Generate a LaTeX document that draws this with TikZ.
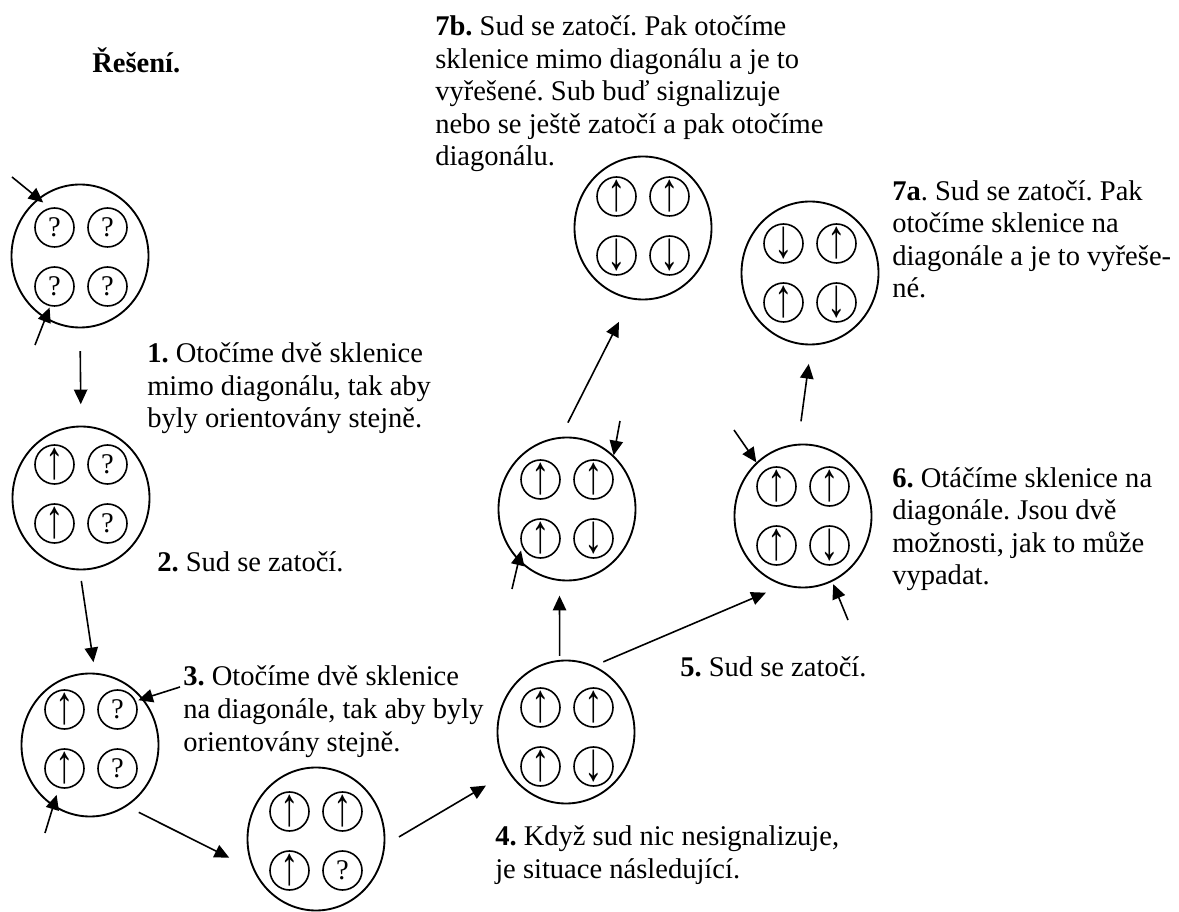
\documentclass[tikz,border=0pt]{standalone}
\usepackage{fontspec}
\setmainfont{Liberation Serif}
\usetikzlibrary{arrows.meta,shapes.geometric}
\frenchspacing
\newcommand{\glassup}{\scalebox{1.3}[1.9]{↑}}
\newcommand{\glassdown}{\scalebox{1.3}[1.9]{↓}}

\begin{document}
\begin{tikzpicture}[x=0.75pt,y=0.75pt,yscale=-1,xscale=1,
  barrel/.style={draw,ellipse,line width=1.4pt,minimum width=102.75pt,minimum height=107.25pt,inner sep=0pt},
  glass/.style={draw,circle,line width=1.2pt,minimum size=29.25pt,inner sep=0pt,font=\fontsize{21.4}{24.4}\selectfont},
  note/.style={anchor=base west,align=left,inner sep=0pt,font=\fontsize{21.4}{24.4}\selectfont},
  move/.style={-{Triangle[length=11pt,width=10pt]},line width=1.2pt}]
\useasboundingbox (0,0) rectangle (1179,912);

%Shape: Circle [barrel 1]
\node[barrel] (s1) at (80,256) {};
\node[glass] (s1a) at (54.5,227.5) {?};
\node[glass] (s1b) at (107.5,227.5) {?};
\node[glass] (s1c) at (54.5,286.5) {?};
\node[glass] (s1d) at (107.5,286.5) {?};
%Shape: Circle [barrel 2]
\node[barrel] (s2) at (81,498) {};
\node[glass] (s2a) at (54.5,464.5) {\glassup};
\node[glass] (s2b) at (107.5,464.5) {?};
\node[glass] (s2c) at (54.5,523.5) {\glassup};
\node[glass] (s2d) at (107.5,523.5) {?};
%Shape: Circle [barrel 3]
\node[barrel] (s3) at (90,745) {};
\node[glass] (s3a) at (64.5,709.5) {\glassup};
\node[glass] (s3b) at (117.5,709.5) {?};
\node[glass] (s3c) at (64.5,768.5) {\glassup};
\node[glass] (s3d) at (117.5,768.5) {?};
%Shape: Circle [barrel 4]
\node[barrel] (s4) at (316,839) {};
\node[glass] (s4a) at (289.5,811.5) {\glassup};
\node[glass] (s4b) at (342.5,811.5) {\glassup};
\node[glass] (s4c) at (289.5,870.5) {\glassup};
\node[glass] (s4d) at (342.5,870.5) {?};
%Shape: Circle [barrel 5]
\node[barrel] (s5) at (566,732) {};
\node[glass] (s5a) at (540.5,707.5) {\glassup};
\node[glass] (s5b) at (593.5,707.5) {\glassup};
\node[glass] (s5c) at (540.5,766.5) {\glassup};
\node[glass] (s5d) at (593.5,766.5) {\glassdown};
%Shape: Circle [barrel 6]
\node[barrel] (s6) at (567,509) {};
\node[glass] (s6a) at (540.5,479.5) {\glassup};
\node[glass] (s6b) at (593.5,479.5) {\glassup};
\node[glass] (s6c) at (540.5,538.5) {\glassup};
\node[glass] (s6d) at (593.5,538.5) {\glassdown};
%Shape: Circle [barrel 7]
\node[barrel] (s7) at (803,516) {};
\node[glass] (s7a) at (776.5,486.5) {\glassup};
\node[glass] (s7b) at (829.5,486.5) {\glassup};
\node[glass] (s7c) at (776.5,545.5) {\glassup};
\node[glass] (s7d) at (829.5,545.5) {\glassdown};
%Shape: Circle [barrel 8]
\node[barrel] (s8) at (643,228) {};
\node[glass] (s8a) at (616.5,196.5) {\glassup};
\node[glass] (s8b) at (669.5,196.5) {\glassup};
\node[glass] (s8c) at (616.5,255.5) {\glassdown};
\node[glass] (s8d) at (669.5,255.5) {\glassdown};
%Shape: Circle [barrel 9]
\node[barrel] (s9) at (810,273) {};
\node[glass] (s9a) at (783.5,243.5) {\glassdown};
\node[glass] (s9b) at (836.5,243.5) {\glassup};
\node[glass] (s9c) at (783.5,302.5) {\glassup};
\node[glass] (s9d) at (836.5,302.5) {\glassdown};

%Straight Lines [steps]
\draw[move,shorten <=17pt,shorten >=16pt] (s1.270) -- (s2.90);
\draw[move,shorten <=8pt,shorten >=8pt] (s2.269) -- (s3.86.5);
\draw[move,shorten <=10pt,shorten >=20pt] (s3.-59) -- (s4.206.6);
\draw[move,shorten <=12pt,shorten >=19.5pt] (s4.-5.4) -- (s5.215.2);
\draw[move,shorten <=3pt,shorten >=11pt] (s5.95.3) -- (s6.264.7);
\draw[move,shorten <=7.5pt,shorten >=14pt] (s5.67.5) -- (s7.254.6);
\draw[move,shorten <=12pt,shorten >=19pt] (s6.95.9) -- (s8.260.4);
\draw[move,shorten <=17pt,shorten >=14pt] (s7.94.9) -- (s9.271.3);

%Straight Lines [turned glasses]
\coordinate (k1a) at (12,177);
\coordinate (k1b) at (35,345);
\coordinate (k3a) at (180,687);
\coordinate (k3b) at (45,833);
\coordinate (k6a) at (620,421);
\coordinate (k6b) at (512,589);
\coordinate (k7a) at (734,430);
\coordinate (k7b) at (848,620);
\draw[move,shorten >=-5pt] (k1a) -- (s1.126.7);
\draw[move,shorten >=-9pt] (k1b) -- (s1.241.7);
\draw[move,shorten >=-4pt] (k3a) -- (s3.41.9);
\draw[move,shorten >=-9pt] (k3b) -- (s3.239);
\draw[move] (k6a) -- (s6.49.6);
\draw[move,shorten >=-8pt] (k6b) -- (s6.227.7);
\draw[move] (k7a) -- (s7.131.6);
\draw[move,shorten >=2pt] (k7b) -- (s7.294.1);

% Text Node
\node[note] (t0) at (92,73) {\textbf{Řešení.}};
% Text Node
\node[note] (t1) at (147,428) {\textbf{1.} Otočíme dvě sklenice\\mimo diagonálu, tak aby\\byly orientovány stejně.};
% Text Node
\node[note] (t2) at (157,572) {\textbf{2.} Sud se zatočí.};
% Text Node
\node[note] (t3) at (183,751) {\textbf{3.} Otočíme dvě sklenice\\na diagonále, tak aby byly\\orientovány stejně.};
% Text Node
\node[note] (t4) at (495,878) {\textbf{4.} Když sud nic nesignalizuje,\\je situace následující.};
% Text Node
\node[note] (t5) at (680,677) {\textbf{5.} Sud se zatočí.};
% Text Node
\node[note] (t6) at (892,585) {\textbf{6.} Otáčíme sklenice na\\diagonále. Jsou dvě\\možnosti, jak to může\\vypadat.};
% Text Node
\node[note] (t7a) at (892,298) {\textbf{7a}. Sud se zatočí. Pak\\otočíme sklenice na\\diagonále a je to vyřeše-\\né.};
% Text Node
\node[note] (t7b) at (435,166) {\textbf{7b.} Sud se zatočí. Pak otočíme\\sklenice mimo diagonálu a je to\\vyřešené. Sub buď signalizuje\\nebo se ještě zatočí a pak otočíme\\diagonálu.};

\end{tikzpicture}
\end{document}
